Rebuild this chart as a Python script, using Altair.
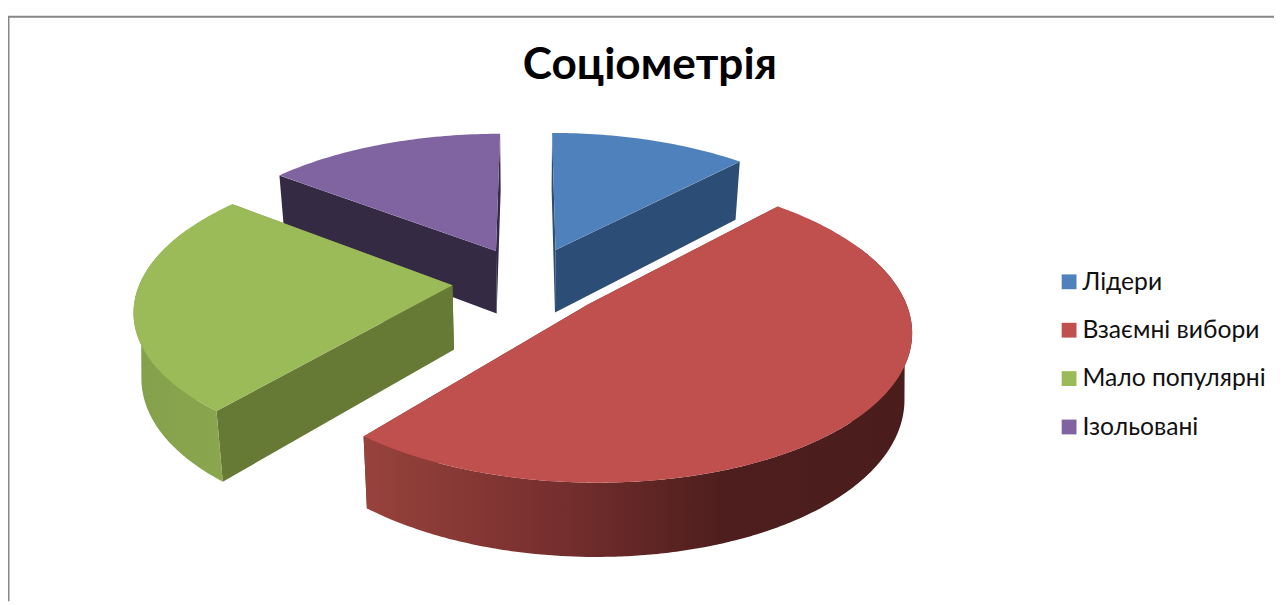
import math
import altair as alt
import pandas as pd

categories = ["Лідери", "Взаємні вибори", "Мало популярні", "Ізольовані"]
shares = [12, 49, 24.5, 14.5]
top_colors = ["#4f81bd", "#c0504d", "#9bbb59", "#8064a2"]
cut_colors = ["#2c4d75", "#7a2f2c", "#667a35", "#352a44"]
draw_order = [3, 0, 2, 1]

W, H = 1282, 597
X0, Y0, A, B, K, EXPL, DEPTH = 535, 281, 316, 145, 0.15, 0.244, 65
SX, SY = 0.98, 0.05


def top_pt(u, v):
    w = 1 + K * v
    return (X0 + A * u / w, Y0 - B * v / w)


def bottom_pt(u, v):
    x, y = top_pt(u, v)
    return (X0 + SX * (x - X0), y + DEPTH + SY * (y - Y0))


def envelope(poly):
    xs = sorted({round(p[0], 2) for p in poly})
    rows = []
    n = len(poly)
    for x in xs:
        ys = []
        for i in range(n):
            (x1, y1), (x2, y2) = poly[i], poly[(i + 1) % n]
            lo, hi = min(x1, x2) - 0.006, max(x1, x2) + 0.006
            if lo <= x <= hi:
                if abs(x2 - x1) < 1e-6:
                    ys += [y1, y2]
                else:
                    t = min(1, max(0, (x - x1) / (x2 - x1)))
                    ys.append(y1 + t * (y2 - y1))
        rows.append({"x": x, "y": min(ys), "y2": max(ys)})
    return pd.DataFrame(rows)


X_ENC = alt.X("x:Q", scale=alt.Scale(domain=[8, 8 + W], nice=False, zero=False), axis=None)
Y_ENC = alt.Y("y:Q", scale=alt.Scale(domain=[8, 8 + H], reverse=True, nice=False, zero=False), axis=None)


def area(poly, color):
    return alt.Chart(envelope(poly)).mark_area(color=color, strokeWidth=0).encode(x=X_ENC, y=Y_ENC, y2="y2:Q")


red_wall = alt.Gradient(
    gradient="linear", x1=0, x2=1, y1=0, y2=0,
    stops=[
        alt.GradientStop(offset=0, color="#98423c"),
        alt.GradientStop(offset=0.35, color="#762f2e"),
        alt.GradientStop(offset=0.66, color="#4d1e1d"),
        alt.GradientStop(offset=1, color="#4a1d1c"),
    ],
)
green_wall = alt.Gradient(
    gradient="linear", x1=0, x2=1, y1=0, y2=0,
    stops=[
        alt.GradientStop(offset=0, color="#84a04a"),
        alt.GradientStop(offset=1, color="#8aa74f"),
    ],
)
wall_fills = {1: red_wall, 2: green_wall}

total = sum(shares)
bounds = [0]
for s in shares:
    bounds.append(bounds[-1] + 360 * s / total)

layers = []
for idx in draw_order:
    a0, a1 = bounds[idx], bounds[idx + 1]
    mid = math.radians((a0 + a1) / 2)
    ou, ov = EXPL * math.sin(mid), EXPL * math.cos(mid)

    def circ(deg):
        r = math.radians(deg)
        return ou + math.sin(r), ov + math.cos(r)

    n = max(2, int(a1 - a0))
    arc = [circ(a0 + (a1 - a0) * i / n) for i in range(n + 1)]
    for edge in (a0, a1):
        e = circ(edge)
        layers.append(area([top_pt(ou, ov), top_pt(*e), bottom_pt(*e), bottom_pt(ou, ov)], cut_colors[idx]))
    wa, wb = max(a0, 66), min(a1, 294)
    if idx in wall_fills:
        m = int(wb - wa)
        warc = [circ(wa + (wb - wa) * i / m) for i in range(m + 1)]
        poly = [top_pt(*p) for p in warc] + [bottom_pt(*p) for p in reversed(warc)]
        layers.append(area(poly, wall_fills[idx]))
    tops = envelope([top_pt(ou, ov)] + [top_pt(*p) for p in arc])
    tops["cat"] = categories[idx]
    layers.append(
        alt.Chart(tops).mark_area(strokeWidth=0).encode(
            x=X_ENC, y=Y_ENC, y2="y2:Q",
            color=alt.Color(
                "cat:N",
                scale=alt.Scale(domain=categories, range=top_colors),
                legend=alt.Legend(
                    title=None, orient="none", legendX=1062, legendY=261,
                    symbolType="square", symbolSize=225, symbolStrokeWidth=0,
                    labelFont="Lato", labelFontSize=25, labelColor="#111111",
                    labelOffset=1, labelLimit=260, rowPadding=23,
                ),
            ),
        )
    )

frame_top = alt.Chart(pd.DataFrame({"y": [13], "a": [8], "b": [8 + W]})).mark_rule(color="#868686", strokeWidth=2).encode(
    y=Y_ENC, x=alt.X("a:Q", scale=alt.Scale(domain=[8, 8 + W], nice=False, zero=False), axis=None), x2="b:Q"
)
frame_left = alt.Chart(pd.DataFrame({"x": [8.5], "a": [13], "b": [8 + H]})).mark_rule(color="#868686", strokeWidth=2).encode(
    x=X_ENC, y=alt.Y("a:Q", scale=alt.Scale(domain=[8, 8 + H], reverse=True, nice=False, zero=False), axis=None), y2="b:Q"
)

chart = (
    alt.layer(frame_top, frame_left, *layers)
    .resolve_scale(color="shared")
    .properties(
        width=W, height=H, padding=0, autosize=alt.AutoSizeParams(type="none"),
        title=alt.TitleParams(
            "Соціометрія", font="Lato", fontSize=44.7, fontWeight="bold", color="#000000",
            anchor="middle", dx=9, dy=82,
        ),
    )
    .configure_view(stroke=None)
)
chart.save("out.html", embed_options={"renderer": "svg", "actions": False})
